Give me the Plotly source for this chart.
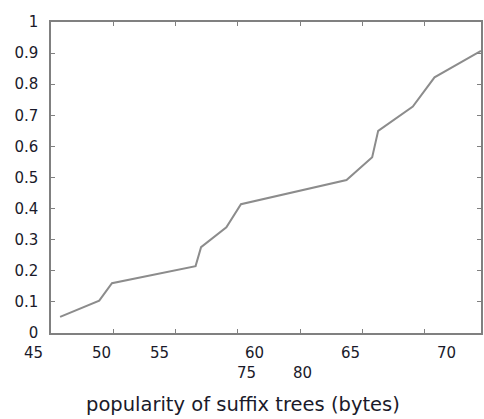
import plotly.graph_objects as go

# ---- data ----
x_vals = [45.73, 48.87, 49.89, 56.60, 57.04, 59.07, 60.24, 63.25,
          68.71, 70.77, 71.25, 74.03, 75.77, 79.5]
y_vals = [0.052, 0.104, 0.160, 0.215, 0.276, 0.340, 0.414, 0.441,
          0.492, 0.565, 0.650, 0.728, 0.822, 0.907]

# tick marks on the x axis (unlabelled)
x_tick_marks = [50, 55, 60, 65, 70, 75]
# x tick labels as they appear (misplaced) in the reference
first_label = "45"
first_pos = 45
row1_labels = ["50", "55", "60", "65", "70"]
row1_pos = [49.03, 53.67, 61.33, 69.0, 76.75]
row2_labels = ["75", "80"]
row2_pos = [60.69, 65.17]

y_tick_vals = [0, 0.1, 0.2, 0.3, 0.4, 0.5, 0.6, 0.7, 0.8, 0.9, 1]
y_tick_text = ["0", "0.1", "0.2", "0.3", "0.4", "0.5", "0.6", "0.7", "0.8", "0.9", "1"]

x_title = "popularity of suffix trees (bytes)"

FONT = "DejaVu Sans"
TXT = "#1a1a2a"
AX = "#808080"

fig = go.Figure()
fig.add_trace(go.Scatter(x=x_vals, y=y_vals, mode="lines",
                         line=dict(color="#8c8c8c", width=2),
                         showlegend=False, hoverinfo="skip"))

annotations = []
annotations.append(dict(text=first_label, x=first_pos, xref="x", y=0, yref="paper",
                        xanchor="right", yanchor="middle", xshift=-6, yshift=-20,
                        showarrow=False, font=dict(family=FONT, size=15, color=TXT)))
for lab, pos in zip(row1_labels, row1_pos):
    annotations.append(dict(text=lab, x=pos, xref="x", y=0, yref="paper",
                            xanchor="center", yanchor="middle", yshift=-20,
                            showarrow=False, font=dict(family=FONT, size=15, color=TXT)))
for lab, pos in zip(row2_labels, row2_pos):
    annotations.append(dict(text=lab, x=pos, xref="x", y=0, yref="paper",
                            xanchor="center", yanchor="middle", yshift=-40,
                            showarrow=False, font=dict(family=FONT, size=15, color=TXT)))
annotations.append(dict(text=x_title, x=0.4456, xref="paper", y=0, yref="paper",
                        xanchor="center", yanchor="middle", yshift=-71,
                        showarrow=False, font=dict(family=FONT, size=19.5, color=TXT)))

fig.update_layout(
    width=484, height=419,
    margin=dict(l=51, r=1, t=22, b=86, pad=0),
    paper_bgcolor="white", plot_bgcolor="white",
    annotations=annotations,
    xaxis=dict(range=[45, 79.5], tickvals=x_tick_marks, showticklabels=False,
               ticks="inside", ticklen=4, tickwidth=1, tickcolor=AX,
               showline=True, linecolor=AX, linewidth=1.5, mirror="ticks",
               showgrid=False, zeroline=False, fixedrange=True),
    yaxis=dict(range=[0, 1], tickvals=y_tick_vals, ticktext=y_tick_text,
               ticks="inside", ticklen=4, tickwidth=1, tickcolor=AX,
               showline=True, linecolor=AX, linewidth=1.5, mirror="ticks",
               showgrid=False, zeroline=False, fixedrange=True,
               ticklabelstandoff=8,
               tickfont=dict(family=FONT, size=15, color=TXT)),
)

fig.write_html("out.html", config={"displayModeBar": False})
